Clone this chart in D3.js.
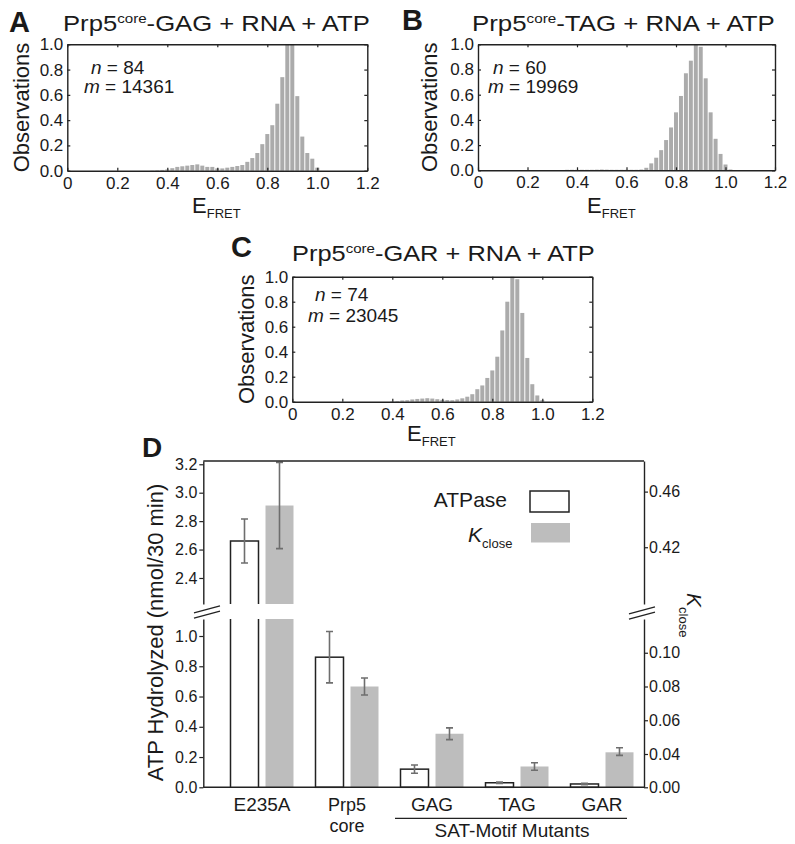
<!DOCTYPE html>
<html><head><meta charset="utf-8">
<script src="https://cdn.jsdelivr.net/npm/d3@7/dist/d3.min.js"></script>
<style>
body{margin:0;background:#fff}
svg text{font-family:"Liberation Sans",Arial,Helvetica,sans-serif;fill:#1a1a1a}
</style></head><body>
<svg id="fig" width="795" height="844"></svg>
<script>
// ---------------- DATA ----------------
const efretTicks = [0, 0.2, 0.4, 0.6, 0.8, 1.0, 1.2];
const efretTickLabels = ["0", "0.2", "0.4", "0.6", "0.8", "1.0", "1.2"];
const obsTicks = [0, 0.2, 0.4, 0.6, 0.8, 1.0];
const obsTickLabels = ["0.0", "0.2", "0.4", "0.6", "0.8", "1.0"];

const binsGAG = [0.34,0.36,0.38,0.40,0.42,0.44,0.46,0.48,0.50,0.52,0.54,0.56,0.58,0.60,0.62,0.64,0.66,0.68,0.70,0.72,0.74,0.76,0.78,0.80,0.82,0.84,0.86,0.88,0.90,0.92,0.94,0.96,0.98,1.00];
const obsGAG  = [0.002,0.004,0.006,0.010,0.020,0.030,0.035,0.040,0.045,0.050,0.040,0.030,0.030,0.018,0.018,0.024,0.030,0.037,0.045,0.070,0.100,0.140,0.210,0.290,0.360,0.530,0.740,1.000,1.000,0.590,0.270,0.140,0.095,0.024];

const binsTAG = [0.36,0.38,0.40,0.42,0.44,0.46,0.48,0.50,0.52,0.54,0.56,0.58,0.60,0.62,0.64,0.66,0.68,0.70,0.72,0.74,0.76,0.78,0.80,0.82,0.84,0.86,0.88,0.90,0.92,0.94,0.96,0.98,1.00,1.02];
const obsTAG  = [0.004,0.004,0.004,0.004,0.004,0.004,0.005,0.006,0.005,0.004,0.004,0.004,0.004,0.004,0.004,0.006,0.020,0.055,0.100,0.160,0.240,0.340,0.460,0.590,0.770,0.870,1.000,0.980,0.730,0.460,0.250,0.130,0.046,0.006];

const binsGAR = [0.40,0.42,0.44,0.46,0.48,0.50,0.52,0.54,0.56,0.58,0.60,0.62,0.64,0.66,0.68,0.70,0.72,0.74,0.76,0.78,0.80,0.82,0.84,0.86,0.88,0.90,0.92,0.94,0.96,0.98,1.00];
const obsGAR  = [0.004,0.005,0.010,0.012,0.018,0.022,0.025,0.028,0.025,0.020,0.015,0.013,0.012,0.018,0.027,0.040,0.060,0.100,0.130,0.190,0.250,0.360,0.570,0.800,1.000,0.980,0.710,0.350,0.140,0.050,0.012];

const categories = ["E235A", "Prp5 core", "GAG", "TAG", "GAR"];
const seriesNames = ["ATPase", "Kclose"];
const atpase    = [2.66, 0.86, 0.12, 0.030, 0.022];
const atpaseErr = [0.155, 0.17, 0.027, 0.004, 0.004];
const kclose    = [0.450, 0.080, 0.052, 0.025, 0.041];
const kcloseErr = [0.031, 0.005, 0.0035, 0.0045, 0.0027];
const leftUpperTicks = [2.4, 2.6, 2.8, 3.0, 3.2];
const leftLowerTicks = [0, 0.2, 0.4, 0.6, 0.8, 1.0];
const rightUpperTicks = [0.42, 0.46];
const rightLowerTicks = [0, 0.04, 0.06, 0.08, 0.10];

// ---------------- DRAW ----------------
const svg = d3.select("#fig");
const INK = "#222";
const FONT = '"Liberation Sans",Arial,Helvetica,sans-serif';

function styleAxis(g, fs) {
  g.selectAll("path.domain").attr("stroke", INK).attr("stroke-width", 1.4);
  g.selectAll(".tick line").attr("stroke", INK).attr("stroke-width", 1.2);
  g.selectAll(".tick text").attr("font-size", fs).attr("font-family", FONT).attr("fill", "#1a1a1a");
}

function scaledTitle(x, y, w, main, sup, rest) {
  const t = svg.append("text").attr("font-size", 22);
  t.append("tspan").text(main);
  t.append("tspan").attr("font-size", 13).attr("dy", -8).text(sup);
  t.append("tspan").attr("dy", 8).text(rest);
  const bw = t.node().getBBox().width;
  t.attr("transform", `translate(${x},${y}) scale(${w / bw},1)`);
}

function histPanel(p) {
  const x = d3.scaleLinear().domain([0, 1.2]).range([p.x0, p.x1]);
  const y = d3.scaleLinear().domain([0, 1]).range([p.y1, p.y0]);
  const g = svg.append("g");
  const data = p.bins.map((b, i) => ({ b, v: p.obs[i] }));
  g.selectAll("rect.bar").data(data).join("rect")
    .attr("class", "bar")
    .attr("x", d => x(d.b - 0.008))
    .attr("width", d => x(d.b + 0.008) - x(d.b - 0.008))
    .attr("y", d => y(d.v))
    .attr("height", d => y(0) - y(d.v))
    .attr("fill", "#ababab");

  const gb = g.append("g").attr("transform", `translate(0,${p.y1})`)
    .call(d3.axisBottom(x).tickValues(efretTicks).tickFormat((d, i) => efretTickLabels[i])
      .tickSize(-3).tickSizeOuter(0).tickPadding(6));
  styleAxis(gb, 17);
  const gl = g.append("g").attr("transform", `translate(${p.x0},0)`)
    .call(d3.axisLeft(y).tickValues(obsTicks).tickFormat((d, i) => obsTickLabels[i])
      .tickSize(-3).tickSizeOuter(0).tickPadding(4));
  styleAxis(gl, 17);
  const gt = g.append("g").attr("transform", `translate(0,${p.y0})`)
    .call(d3.axisTop(x).tickValues(efretTicks).tickFormat("").tickSize(-3).tickSizeOuter(0));
  styleAxis(gt, 17);
  const gr = g.append("g").attr("transform", `translate(${p.x1},0)`)
    .call(d3.axisRight(y).tickValues(obsTicks).tickFormat("").tickSize(-3).tickSizeOuter(0));
  styleAxis(gr, 17);

  // y label
  svg.append("text").attr("font-size", 22).attr("text-anchor", "middle")
    .attr("transform", `translate(${p.obsX},${(p.y0 + p.y1) / 2}) rotate(-90)`)
    .text("Observations");
  // x label
  const xl = svg.append("text").attr("x", p.efX).attr("y", p.efY).attr("font-size", 22);
  xl.append("tspan").text("E");
  xl.append("tspan").attr("font-size", 13).attr("dy", 5).text("FRET");
  // n, m
  const t1 = svg.append("text").attr("x", p.nX).attr("y", p.nY).attr("font-size", 19);
  t1.append("tspan").attr("font-style", "italic").text("n");
  t1.append("tspan").text(" = " + p.n);
  const t2 = svg.append("text").attr("x", p.mX).attr("y", p.mY).attr("font-size", 19);
  t2.append("tspan").attr("font-style", "italic").text("m");
  t2.append("tspan").text(" = " + p.m);
  // panel letter & title
  svg.append("text").attr("x", p.letX).attr("y", p.letY).attr("font-size", 29)
    .attr("font-weight", "bold").text(p.letter);
  scaledTitle(p.tX, p.tY, p.tW, "Prp5", "core", p.title);
}

histPanel({ x0: 67.3, x1: 367.3, y0: 44.3, y1: 170.7, bins: binsGAG, obs: obsGAG,
  obsX: 28.5, efX: 192, efY: 213, nX: 91, nY: 74, mX: 84, mY: 93, n: "84", m: "14361",
  letter: "A", letX: 9, letY: 32, tX: 63, tY: 31, tW: 307, title: "-GAG + RNA + ATP" });
histPanel({ x0: 478, x1: 775, y0: 44.3, y1: 170.3, bins: binsTAG, obs: obsTAG,
  obsX: 436.5, efX: 587, efY: 213, nX: 493, nY: 74, mX: 488, mY: 93, n: "60", m: "19969",
  letter: "B", letX: 402, letY: 30, tX: 472, tY: 31, tW: 303, title: "-TAG + RNA + ATP" });
histPanel({ x0: 292.3, x1: 592.3, y0: 276.7, y1: 401.7, bins: binsGAR, obs: obsGAR,
  obsX: 254, efX: 407, efY: 441, nX: 315, nY: 301, mX: 308, mY: 322, n: "74", m: "23045",
  letter: "C", letX: 231, letY: 257, tX: 292, tY: 261, tW: 303, title: "-GAR + RNA + ATP" });

// ---------------- PANEL D ----------------
const L = 203.3, R = 644, TOP = 461, BOT = 787.3, UPB = 604, LOWT = 619;
const xBand = d3.scaleBand().domain(categories).range([219.5, 644.5]);
const xSer = d3.scaleBand().domain(seriesNames).range([11, 74]).paddingInner(0.2);
const yLU = d3.scaleLinear().domain([2.217, 3.223]).range([UPB, TOP]);
const yLL = d3.scaleLinear().domain([0, 1.1124]).range([BOT, LOWT]);
const yRU = d3.scaleLinear().domain([0.3792, 0.482]).range([UPB, TOP]);
const yRL = d3.scaleLinear().domain([0, 0.04, 0.12]).range([BOT, 754, LOWT]);

const gD = svg.append("g");
const GRAY = "#bdbdbd";
function drawSeries(vals, errs, sName, lower, upper) {
  const lowMax = lower.domain()[lower.domain().length - 1];
  vals.forEach((v, i) => {
    const xl = xBand(categories[i]) + xSer(sName);
    const xr = xl + xSer.bandwidth();
    const open = sName === "ATPase";
    if (v <= lowMax) {
      gD.append("rect").attr("x", xl).attr("y", lower(v)).attr("width", xr - xl)
        .attr("height", lower(0) - lower(v))
        .attr("fill", open ? "#fff" : GRAY)
        .attr("stroke", open ? INK : "none").attr("stroke-width", 1.5);
    } else if (open) {
      gD.append("path").attr("d", `M${xl},${LOWT}V${BOT}M${xr},${LOWT}V${BOT}`)
        .attr("stroke", INK).attr("stroke-width", 1.5).attr("fill", "none");
      gD.append("path").attr("d", `M${xl},${UPB}V${upper(v)}H${xr}V${UPB}`)
        .attr("stroke", INK).attr("stroke-width", 1.5).attr("fill", "none");
    } else {
      gD.append("rect").attr("x", xl).attr("y", LOWT).attr("width", xr - xl)
        .attr("height", BOT - LOWT).attr("fill", GRAY);
      gD.append("rect").attr("x", xl).attr("y", upper(v)).attr("width", xr - xl)
        .attr("height", UPB - upper(v)).attr("fill", GRAY);
    }
    // error bar
    const sc = v <= lowMax ? lower : upper;
    const cx = (xl + xr) / 2, e = errs[i];
    const y1 = sc(v + e), y2 = sc(v - e);
    gD.append("path")
      .attr("d", `M${cx},${y1}V${y2}M${cx - 3.5},${y1}H${cx + 3.5}M${cx - 3.5},${y2}H${cx + 3.5}`)
      .attr("stroke", "#6e6e6e").attr("stroke-width", 1.6).attr("fill", "none");
  });
}
drawSeries(atpase, atpaseErr, "ATPase", yLL, yLU);
drawSeries(kclose, kcloseErr, "Kclose", yRL, yRU);

// axes
const aLU = gD.append("g").attr("transform", `translate(${L},0)`)
  .call(d3.axisLeft(yLU).tickValues(leftUpperTicks).tickFormat(d3.format(".1f")).tickSize(4).tickSizeOuter(0).tickPadding(2));
const aLL = gD.append("g").attr("transform", `translate(${L},0)`)
  .call(d3.axisLeft(yLL).tickValues(leftLowerTicks).tickFormat(d3.format(".1f")).tickSize(4).tickSizeOuter(0).tickPadding(2));
const aRU = gD.append("g").attr("transform", `translate(${R},0)`)
  .call(d3.axisRight(yRU).tickValues(rightUpperTicks).tickFormat(d3.format(".2f")).tickSize(4).tickSizeOuter(0).tickPadding(1));
const aRL = gD.append("g").attr("transform", `translate(${R},0)`)
  .call(d3.axisRight(yRL).tickValues(rightLowerTicks).tickFormat(d3.format(".2f")).tickSize(4).tickSizeOuter(0).tickPadding(1));
[aLU, aLL, aRU, aRL].forEach(a => styleAxis(a, 16));

gD.append("line").attr("x1", L).attr("x2", R).attr("y1", TOP).attr("y2", TOP).attr("stroke", INK).attr("stroke-width", 1.4);
gD.append("line").attr("x1", L).attr("x2", R).attr("y1", BOT).attr("y2", BOT).attr("stroke", INK).attr("stroke-width", 1.4);

// break marks
function breakMark(cx, cy) {
  [-2.6, 2.6].forEach(o => {
    gD.append("line").attr("x1", cx - 13).attr("y1", cy + o + 3.5).attr("x2", cx + 13).attr("y2", cy + o - 3.5)
      .attr("stroke", INK).attr("stroke-width", 1.3);
  });
}
breakMark(207, 612);
breakMark(642, 613);

// category labels
categories.forEach(c => {
  const cx = xBand(c) + xBand.bandwidth() / 2;
  const parts = c.split(" ");
  parts.forEach((p, j) => {
    gD.append("text").attr("x", cx).attr("y", 811 + j * 20.5).attr("text-anchor", "middle")
      .attr("font-size", parts.length > 1 ? 18 : 19).text(p);
  });
});
gD.append("line").attr("x1", 395).attr("x2", 627).attr("y1", 818.3).attr("y2", 818.3)
  .attr("stroke", INK).attr("stroke-width", 1.3);
gD.append("text").attr("x", 512).attr("y", 836.5).attr("text-anchor", "middle").attr("font-size", 19)
  .text("SAT-Motif Mutants");

// axis titles
gD.append("text").attr("font-size", 22).attr("text-anchor", "middle")
  .attr("transform", `translate(163,632.5) rotate(-90)`).text("ATP Hydrolyzed (nmol/30 min)");
const kl = gD.append("text").attr("font-size", 21)
  .attr("transform", `translate(687,593) rotate(90)`);
kl.append("tspan").attr("font-style", "italic").text("K");
kl.append("tspan").attr("font-size", 13).attr("dy", 8).text("close");

// legend
gD.append("text").attr("x", 507).attr("y", 507).attr("text-anchor", "end").attr("font-size", 21).text("ATPase");
gD.append("rect").attr("x", 530).attr("y", 491).attr("width", 39).attr("height", 21)
  .attr("fill", "#fff").attr("stroke", INK).attr("stroke-width", 1.5);
const lk = gD.append("text").attr("x", 468).attr("y", 541.5).attr("font-size", 21);
lk.append("tspan").attr("font-style", "italic").text("K");
lk.append("tspan").attr("font-size", 13).attr("dy", 6).text("close");
gD.append("rect").attr("x", 531).attr("y", 523).attr("width", 39).attr("height", 19.5).attr("fill", GRAY);

svg.append("text").attr("x", 142).attr("y", 457).attr("font-size", 28).attr("font-weight", "bold").text("D");
</script>
</body></html>
